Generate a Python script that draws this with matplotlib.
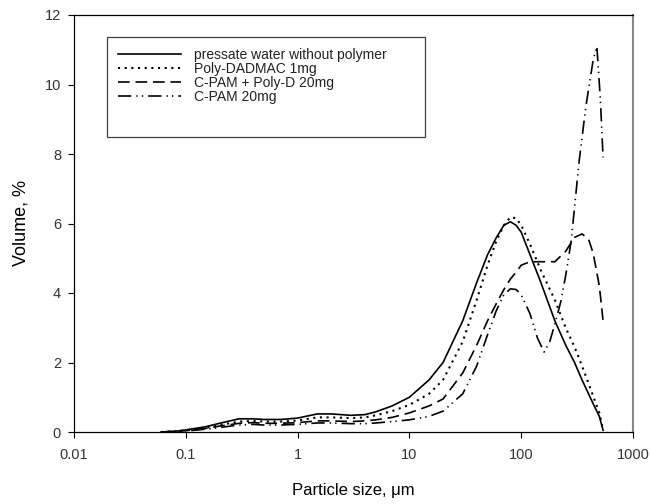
import matplotlib
matplotlib.use("Agg")
import matplotlib.pyplot as plt
from matplotlib.patches import Rectangle

plt.rcParams["font.family"] = ["Liberation Sans", "DejaVu Sans"]

# particle size (um) and volume (%)
size_common = [0.06, 0.08, 0.1, 0.15, 0.2, 0.3, 0.4, 0.5, 0.7, 1, 1.5, 2, 3, 4, 5,
               7, 10, 15, 20, 30, 40, 50, 60, 70, 80, 90, 100, 120, 150, 200,
               250, 300, 350, 400, 450, 500, 540]

pressate = [0.0, 0.02, 0.06, 0.15, 0.25, 0.38, 0.38, 0.36, 0.36, 0.4, 0.52, 0.52,
            0.48, 0.5, 0.58, 0.75, 1.0, 1.5, 2.0, 3.2, 4.3, 5.1, 5.6, 5.95, 6.05,
            5.95, 5.75, 5.1, 4.3, 3.2, 2.5, 2.0, 1.5, 1.1, 0.75, 0.45, 0.05]

poly_dadmac = [0.0, 0.02, 0.05, 0.12, 0.2, 0.3, 0.32, 0.3, 0.3, 0.33, 0.42, 0.42,
               0.4, 0.42, 0.48, 0.6, 0.78, 1.1, 1.5, 2.6, 3.8, 4.8, 5.5, 5.95, 6.18,
               6.15, 5.95, 5.4, 4.65, 3.8, 3.0, 2.45, 1.9, 1.4, 0.95, 0.55, 0.05]

size_cpam_pd = [0.06, 0.08, 0.1, 0.15, 0.2, 0.3, 0.4, 0.5, 0.7, 1, 1.5, 2, 3, 4, 5,
                7, 10, 15, 20, 30, 40, 50, 60, 70, 80, 90, 100, 120, 150, 200,
                250, 300, 350, 400, 440, 500, 540]
cpam_polyd = [0.0, 0.02, 0.04, 0.1, 0.17, 0.25, 0.27, 0.25, 0.25, 0.27, 0.32, 0.32,
              0.3, 0.32, 0.35, 0.42, 0.55, 0.75, 0.95, 1.7, 2.5, 3.2, 3.7, 4.1, 4.4,
              4.6, 4.8, 4.9, 4.9, 4.9, 5.2, 5.6, 5.7, 5.55, 5.15, 4.2, 3.2]

size_cpam = [0.06, 0.08, 0.1, 0.15, 0.2, 0.3, 0.4, 0.5, 0.7, 1, 1.5, 2, 3, 4, 5,
             7, 10, 15, 20, 30, 40, 50, 60, 70, 80, 90, 100, 120, 140, 160, 180,
             200, 226, 250, 280, 330, 380, 440, 475, 510, 540]
cpam = [0.0, 0.01, 0.03, 0.08, 0.13, 0.2, 0.22, 0.2, 0.2, 0.22, 0.26, 0.26, 0.24,
        0.24, 0.26, 0.3, 0.35, 0.45, 0.6, 1.1, 1.9, 2.8, 3.5, 3.95, 4.12, 4.1, 3.95,
        3.4, 2.7, 2.3, 2.6, 3.1, 3.75, 4.5, 5.5, 7.8, 9.4, 10.7, 11.1, 9.6, 7.9]

labels = ["pressate water without polymer", "Poly-DADMAC 1mg",
          "C-PAM + Poly-D 20mg", "C-PAM 20mg"]

fig = plt.figure(figsize=(6.51, 5.04), dpi=100)
ax = fig.add_axes([74 / 651, 1 - 432 / 504, (633 - 74) / 651, (432 - 15) / 504])

lw = 1.2
ax.plot(size_common, pressate, color="black", lw=lw, ls="-", label=labels[0])
ax.plot(size_common, poly_dadmac, color="black", lw=1.5, ls=(0, (1, 2.2)), label=labels[1])
ax.plot(size_cpam_pd, cpam_polyd, color="black", lw=lw, ls=(0, (7, 3.5)), label=labels[2])
ax.plot(size_cpam, cpam, color="black", lw=lw, ls=(0, (8, 3, 0.8, 2.5, 0.8, 3)), label=labels[3])

ax.set_xscale("log")
ax.set_xlim(0.01, 1000)
ax.set_ylim(0, 12)
ax.set_yticks(range(0, 13, 2))
ax.set_xticks([0.01, 0.1, 1, 10, 100, 1000])
ax.set_xticklabels(["0.01", "0.1", "1", "10", "100", "1000"])
ax.minorticks_off()
ax.tick_params(direction="out", length=4.3, width=0.8, labelsize=10.5, colors="black")
ax.tick_params(axis="x", pad=7)
ax.tick_params(axis="y", pad=5)
for tl in ax.get_xticklabels() + ax.get_yticklabels():
    tl.set_color("#333333")

ax.spines["right"].set_color("#888888")
ax.spines["right"].set_linewidth(1.5)
for s in ["left", "bottom", "top"]:
    ax.spines[s].set_linewidth(0.9)

ax.set_xlabel("Particle size, μm", fontsize=12, labelpad=15)
ax.set_ylabel("Volume, %", fontsize=13, labelpad=11)

# legend box (larger than the entries, as in the original)
fig.patches.append(Rectangle((107 / 651, 1 - 137 / 504), (425 - 107) / 651, (137 - 37) / 504,
                             transform=fig.transFigure, fill=False,
                             edgecolor="#404040", lw=0.9))
leg = ax.legend(loc="upper left", bbox_to_anchor=(118 / 651, 1 - 48 / 504),
                bbox_transform=fig.transFigure, frameon=False, fontsize=10,
                handlelength=4.5, handletextpad=1.0, labelspacing=0.0,
                borderpad=0, borderaxespad=0)
for t in leg.get_texts():
    t.set_color("#222222")

fig.savefig("out.png", dpi=100)
